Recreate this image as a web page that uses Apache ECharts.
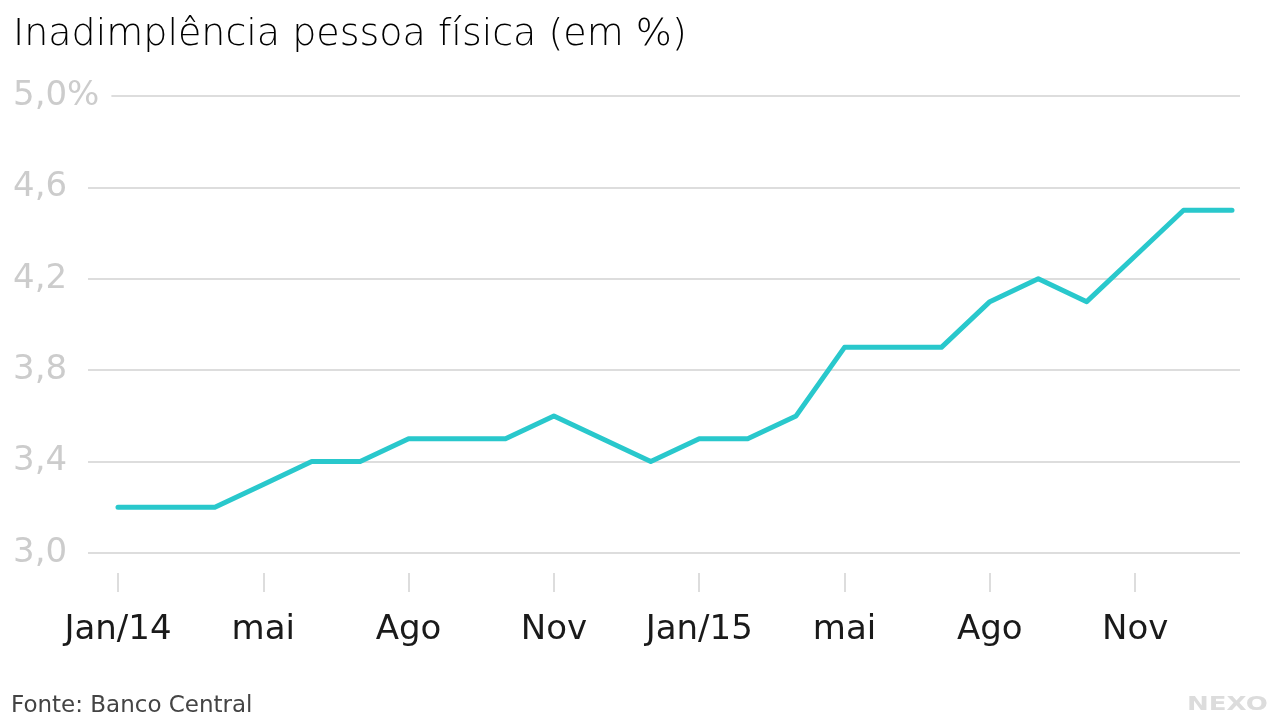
<!DOCTYPE html>
<html>
<head>
<meta charset="utf-8">
<script src="https://cdn.jsdelivr.net/npm/echarts@6/dist/echarts.min.js"></script>
<style>
html,body{margin:0;padding:0;background:#fff;}
#chart{width:1280px;height:720px;}
</style>
</head>
<body>
<div id="chart"></div>
<script>
// Months Jan/2014 .. Dec/2015
const months = ["jan/14","fev/14","mar/14","abr/14","mai/14","jun/14","jul/14","ago/14","set/14","out/14","nov/14","dez/14",
                "jan/15","fev/15","mar/15","abr/15","mai/15","jun/15","jul/15","ago/15","set/15","out/15","nov/15","dez/15"];
const values = [3.2,3.2,3.2,3.3,3.4,3.4,3.5,3.5,3.5,3.6,3.5,3.4,
                3.5,3.5,3.6,3.9,3.9,3.9,4.1,4.2,4.1,4.3,4.5,4.5];
const xTickIndex = [0,3,6,9,12,15,18,21];
const xTickLabels = ["Jan/14","mai","Ago","Nov","Jan/15","mai","Ago","Nov"];
const yTickValues = [3.0,3.4,3.8,4.2,4.6,5.0];
const yTickLabels = ["3,0","3,4","3,8","4,2","4,6","5,0%"];

const FONT = 'DejaVu Sans';
const chart = echarts.init(document.getElementById('chart'));
const seriesData = months.map((m, i) => [i, values[i]]);

chart.setOption({
  animation: false,
  backgroundColor: '#ffffff',
  title: {
    text: 'Inadimplência pessoa física (em %)',
    left: 8, top: 11,
    textStyle: { fontFamily: FONT, fontSize: 38, fontWeight: 200, color: '#000000' }
  },
  graphic: [
    { type: 'text', left: 11, top: 695, style: { text: 'Fonte: Banco Central', font: 'normal 23px "DejaVu Sans"', fill: '#444' } },
    { type: 'text', x: 1187, y: 695, scaleX: 1.3, style: { text: 'NEXO', font: 'bold 20px "DejaVu Sans"', fill: '#dcdcdc' } }
  ],
  grid: { left: 88, right: 40, top: 96, bottom: 167 },
  xAxis: {
    type: 'value',
    min: -0.619, max: 23.165,
    offset: 20,
    axisLine: { show: false },
    splitLine: { show: false },
    axisTick: { show: true, length: 19, lineStyle: { color: '#dddddd', width: 2 }, customValues: xTickIndex },
    axisLabel: {
      customValues: xTickIndex,
      margin: 40,
      fontFamily: FONT, fontSize: 34, color: '#1a1a1a',
      formatter: (v) => { const k = xTickIndex.indexOf(Math.round(v)); return k >= 0 ? xTickLabels[k] : ''; }
    }
  },
  yAxis: [
    {
      type: 'value', min: 3, max: 5,
      axisLine: { show: false },
      axisTick: { show: false, customValues: yTickValues },
      axisLabel: { show: false, customValues: yTickValues },
      splitLine: { show: true, lineStyle: { color: '#dddddd', width: 2 } }
    },
    {
      type: 'value', min: 3, max: 5, position: 'left', z: 5,
      axisLine: { show: false },
      axisTick: { show: false, customValues: yTickValues },
      splitLine: { show: false },
      axisLabel: {
        customValues: yTickValues,
        align: 'left', margin: 75,
        fontFamily: FONT, fontSize: 34, color: '#cccccc',
        backgroundColor: '#ffffff', padding: [6, 12, 0, 0],
        formatter: (v) => { const k = yTickValues.findIndex(t => Math.abs(t - v) < 1e-6); return k >= 0 ? yTickLabels[k] : ''; }
      }
    }
  ],
  series: [{
    type: 'line',
    data: seriesData,
    symbol: 'none',
    lineStyle: { color: '#29c8cc', width: 5, cap: 'round', join: 'round' },
    z: 3
  }]
});
</script>
</body>
</html>
